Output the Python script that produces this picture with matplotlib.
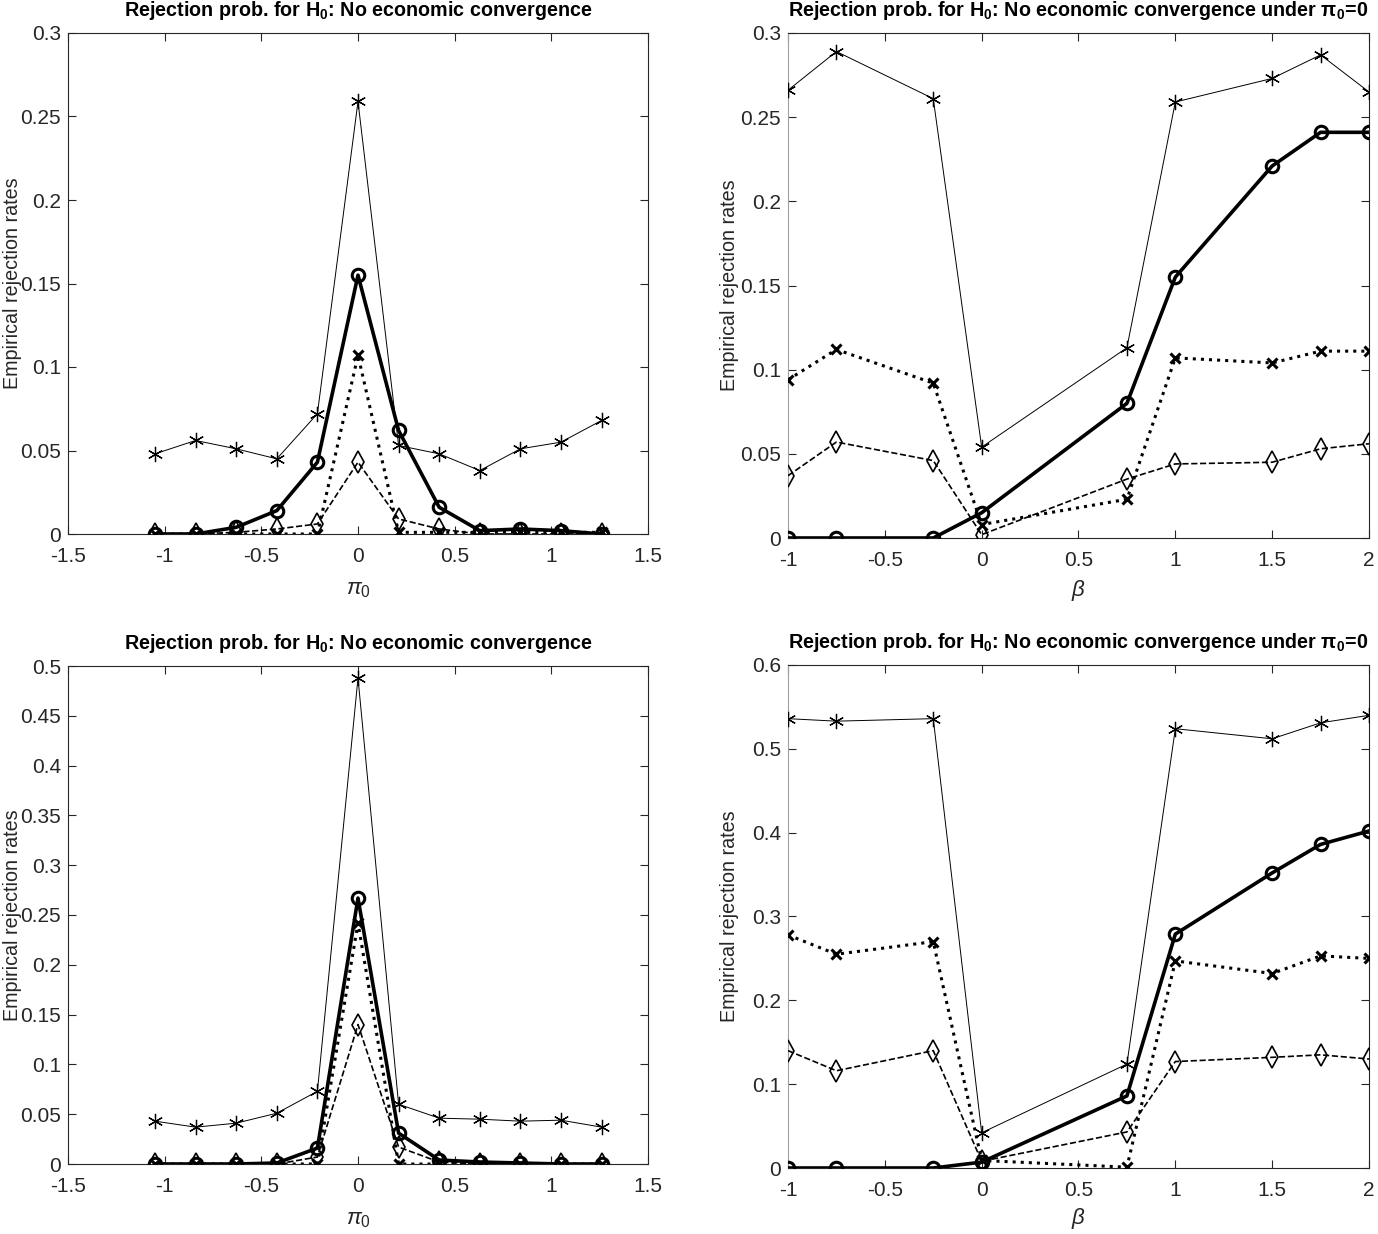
import matplotlib
matplotlib.use("Agg")
import matplotlib.pyplot as plt
from matplotlib.ticker import FuncFormatter, MultipleLocator

plt.rcParams['font.family'] = ['Liberation Sans', 'DejaVu Sans']
plt.rcParams['mathtext.fontset'] = 'custom'
plt.rcParams['mathtext.rm'] = 'Liberation Sans'
plt.rcParams['mathtext.it'] = 'Liberation Sans:italic'
plt.rcParams['mathtext.bf'] = 'Liberation Sans:bold'
plt.rcParams['axes.unicode_minus'] = False

# ---------------- data ----------------
pi0 = [-1.05, -0.84, -0.63, -0.42, -0.21, 0.0, 0.21, 0.42, 0.63, 0.84, 1.05, 1.26]
beta = [-1.0, -0.75, -0.25, 0.0, 0.75, 1.0, 1.5, 1.75, 2.0]

# top-left
tl_star = [0.048, 0.056, 0.051, 0.045, 0.072, 0.259, 0.053, 0.048, 0.038, 0.051, 0.055, 0.068]
tl_circ = [0.0, 0.0, 0.004, 0.014, 0.043, 0.155, 0.062, 0.016, 0.002, 0.003, 0.002, 0.0]
tl_x = [0.0, 0.0, 0.0, 0.0, 0.0, 0.107, 0.001, 0.001, 0.001, 0.001, 0.001, 0.001]
tl_diam = [0.0, 0.0, 0.001, 0.003, 0.006, 0.043, 0.009, 0.003, 0.0, 0.0, 0.0, 0.0]

# top-right
tr_star = [0.266, 0.289, 0.261, 0.054, 0.113, 0.259, 0.273, 0.287, 0.265]
tr_circ = [0.0, 0.0, 0.0, 0.015, 0.080, 0.155, 0.221, 0.241, 0.241]
tr_x = [0.094, 0.112, 0.092, 0.008, 0.023, 0.107, 0.104, 0.111, 0.111]
tr_diam = [0.037, 0.057, 0.046, 0.002, 0.035, 0.044, 0.045, 0.053, 0.056]

# bottom-left
bl_star = [0.043, 0.037, 0.041, 0.051, 0.073, 0.488, 0.060, 0.046, 0.045, 0.043, 0.044, 0.037]
bl_circ = [0.0, 0.0, 0.0, 0.001, 0.016, 0.267, 0.031, 0.004, 0.002, 0.001, 0.0, 0.0]
bl_x = [0.0, 0.0, 0.0, 0.0, 0.0, 0.242, 0.0, 0.0, 0.0, 0.0, 0.0, 0.0]
bl_diam = [0.0, 0.0, 0.0, 0.0, 0.007, 0.140, 0.017, 0.002, 0.0, 0.0, 0.0, 0.0]

# bottom-right
br_star = [0.536, 0.533, 0.536, 0.042, 0.124, 0.524, 0.512, 0.531, 0.540]
br_circ = [0.0, 0.0, 0.0, 0.007, 0.086, 0.279, 0.352, 0.386, 0.402]
br_x = [0.278, 0.255, 0.270, 0.009, 0.001, 0.247, 0.232, 0.253, 0.250]
br_diam = [0.140, 0.116, 0.140, 0.008, 0.043, 0.127, 0.132, 0.135, 0.130]

title_left = r'Rejection prob. for $\mathbf{H_0}$: No economic convergence'
title_right = r'Rejection prob. for $\mathbf{H_0}$: No economic convergence under $\mathbf{\pi_0}$=0'
ylabel = 'Empirical rejection rates'

W, H = 1378, 1234
fig = plt.figure(figsize=(W / 100, H / 100), dpi=100)


def add_ax(l, r, t, b):
    return fig.add_axes([l / W, 1 - b / H, (r - l) / W, (b - t) / H])


GRAY = '#262626'
fmt = FuncFormatter(lambda v, p: ('%g' % round(v, 4)))
ASTER = (6, 2, 0)


def draw(ax, x, star, circ, xs, diam, xlim, ylim, xstep, ystep, title, xlabel, xlpad, ylx):
    ax.plot(x, star, '-', color='black', lw=0.7, marker=ASTER, ms=11, mew=0.9, zorder=3)
    ax.plot(x, circ, '-', color='black', lw=2.6, marker='o', ms=9, mfc='none', mew=2.2, zorder=4)
    ax.plot(x, xs, ':', color='black', lw=2.2, marker='x', ms=7, mew=2.2, zorder=5)
    ax.plot(x, diam, '--', color='black', lw=1.2, marker='d', ms=11, mfc='none', mew=1.2, zorder=6)
    ax.set_xlim(*xlim)
    ax.set_ylim(*ylim)
    ax.xaxis.set_major_locator(MultipleLocator(xstep))
    ax.yaxis.set_major_locator(MultipleLocator(ystep))
    ax.xaxis.set_major_formatter(fmt)
    ax.yaxis.set_major_formatter(fmt)
    ax.tick_params(direction='in', top=True, right=True, length=6, width=0.8,
                   labelsize=15, colors=GRAY)
    ax.tick_params(axis='x', pad=9)
    ax.tick_params(axis='y', pad=5)
    for s in ax.spines.values():
        s.set_color(GRAY)
        s.set_linewidth(0.8)
    ax.set_title(title, fontsize=14.2, fontweight='bold', pad=12)
    ax.set_xlabel(xlabel, fontsize=16, color=GRAY, labelpad=xlpad)
    ax.set_ylabel(ylabel, fontsize=14.2, color=GRAY)
    ax.yaxis.set_label_coords(ylx, 0.5)


ax1 = add_ax(68, 648, 33, 534)
draw(ax1, pi0, tl_star, tl_circ, tl_x, tl_diam, (-1.5, 1.5), (0, 0.3), 0.5, 0.05,
     title_left, r'$\pi_0$', 10, -0.079)

ax2 = add_ax(788, 1369, 33, 538)
draw(ax2, beta, tr_star, tr_circ, tr_x, tr_diam, (-1, 2), (0, 0.3), 0.5, 0.05,
     title_right, r'$\beta$', 6, -0.084)

ax3 = add_ax(68, 648, 666, 1164)
draw(ax3, pi0, bl_star, bl_circ, bl_x, bl_diam, (-1.5, 1.5), (0, 0.5), 0.5, 0.05,
     title_left, r'$\pi_0$', 10, -0.079)

ax4 = add_ax(788, 1369, 665, 1168)
draw(ax4, beta, br_star, br_circ, br_x, br_diam, (-1, 2), (0, 0.6), 0.5, 0.1,
     title_right, r'$\beta$', 5, -0.084)

for ax in (ax2, ax4):
    ax.spines['left'].set_color('#a0a0a0')

fig.savefig('out.png', dpi=100)
